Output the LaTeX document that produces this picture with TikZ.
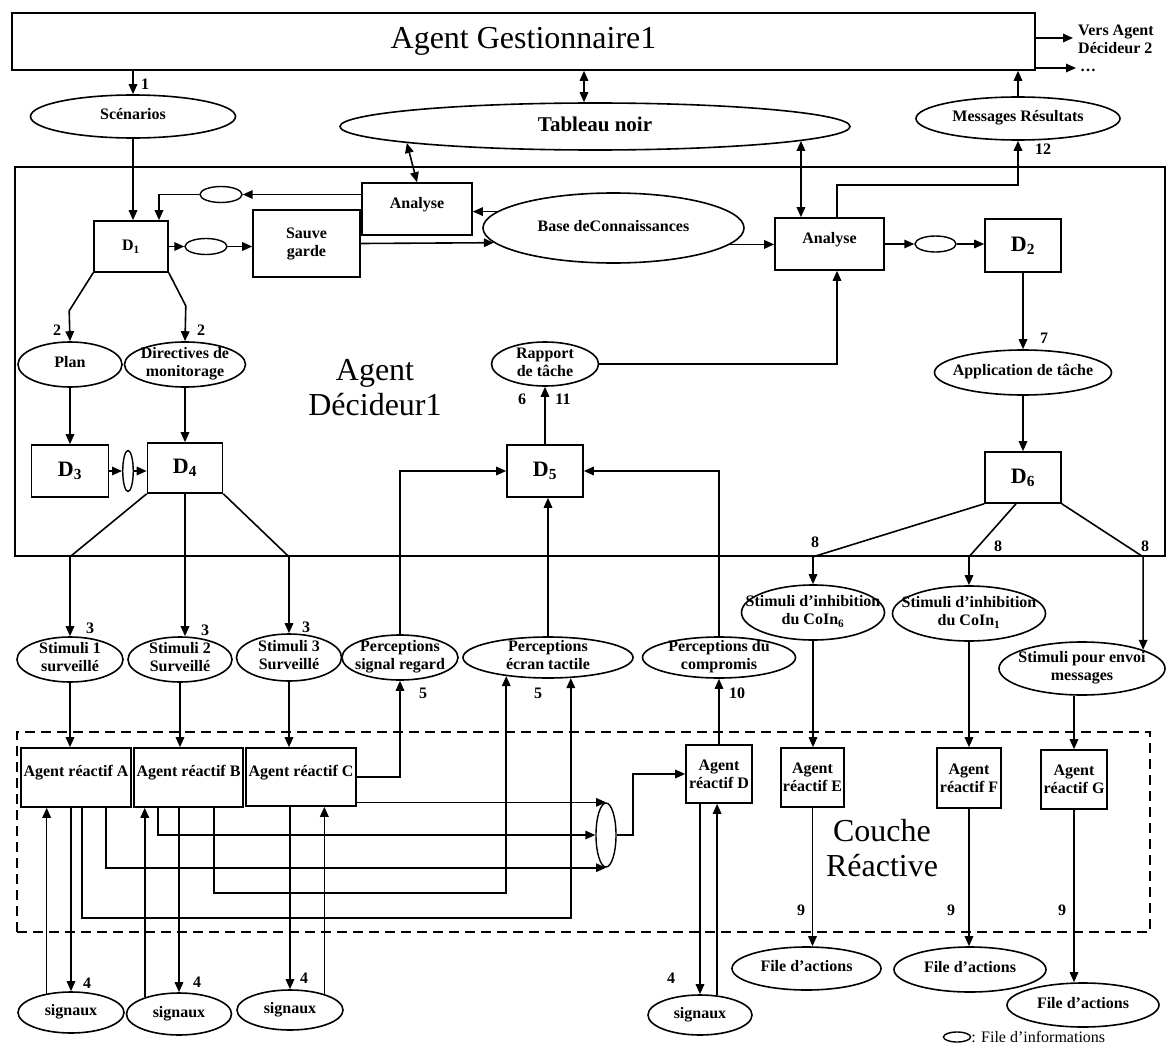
\documentclass[tikz,border=0pt]{standalone}
\usepackage{fontspec}
\setmainfont{Liberation Serif}
\usepackage{tikz}
\usetikzlibrary{arrows.meta}
\usetikzlibrary{calc}
\usetikzlibrary{shapes.geometric}

\tikzset{
  lbl/.style={font=\bfseries\fontsize{16}{18}\selectfont},
  big/.style={font=\fontsize{32}{35}\selectfont},
  boite/.style={draw, line width=1.6pt, inner sep=0pt, align=center, lbl},
  haut/.style={text height=12pt, text depth=14pt},
  dd/.style={boite, font=\bfseries\fontsize{22}{24}\selectfont},
  bulle/.style={ellipse, draw, line width=1.6pt, inner sep=0pt, lbl},
  fifo/.style={ellipse, draw, line width=1.4pt, inner sep=0pt, minimum width=42pt, minimum height=16pt},
  num/.style={lbl, inner sep=0pt},
  fl/.style={-{Triangle[length=10pt,width=8.5pt]}, line width=1.6pt},
  dfl/.style={{Triangle[length=10pt,width=8.5pt]}-{Triangle[length=10pt,width=8.5pt]}, line width=1.6pt},
}
\newcommand{\ov}[1]{\smash{\makebox[0pt]{\raisebox{-.25em}{\begin{tabular}{@{}c@{}}#1\end{tabular}}}}}

\begin{document}
\begin{tikzpicture}[x=1pt,y=-1pt]
  \useasboundingbox (0,0) rectangle (1170,1046);

  \node[boite, big, minimum width=1023pt, minimum height=57pt] (gest) at (523.5,41.5) {Agent Gestionnaire1};
  \node[lbl, anchor=west, align=left, inner sep=0pt] (vers) at (1078,39) {Vers Agent\\Décideur 2};
  \node[lbl, anchor=west, inner sep=0pt] (etc) at (1080,70) {\ldots};
  \coordinate (g1) at ([yshift=3.5pt]gest.east);
  \coordinate (g2) at ([yshift=-26.5pt]gest.east);
  \draw[fl, shorten >=5pt] (g1) -- (g1 -| vers.west);
  \draw[fl, shorten >=4pt] (g2) -- (g2 -| etc.west);

  \node[bulle, minimum width=205pt, minimum height=43pt] (sc) at (133,116.5) {\ov{Scénarios}};
  \node[bulle, font=\bfseries\fontsize{21}{24}\selectfont, minimum width=510pt, minimum height=47pt] (tab) at (595,126.5) {\ov{Tableau noir}};
  \node[bulle, minimum width=204pt, minimum height=43pt] (msg) at (1018,118.5) {\ov{Messages Résultats}};

  \coordinate (t0) at ([xshift=-11pt]tab.north);
  \draw[fl] (gest.south -| sc.north) -- (sc.north);
  \node[num] (l1) at (145,84) {1};
  \draw[dfl] (t0) -- (t0 |- gest.south);
  \draw[fl] (msg.north) -- (msg.north |- gest.south);

  % agent decideur
  \node[draw, line width=1.6pt, inner sep=0pt, minimum width=1150pt, minimum height=389pt] (dec) at (590,361.5) {};
  \node[big, align=center] (titre) at (375,388) {Agent\\Décideur1};

  \node[boite, haut, minimum width=110pt, minimum height=52pt] (al) at (417,209) {Analyse};
  \node[fifo] (fi1) at (221,194.5) {};
  \node[boite, minimum width=74pt, minimum height=51pt] (d1) at (131,246.5) {D\textsubscript{1}};
  \node[fifo] (fi2) at (206,246.5) {};
  \node[boite, minimum width=107pt, minimum height=67pt] (sg) at (306.5,243.5) {Sauve\\garde};
  \node[bulle, minimum width=261pt, minimum height=70pt] (base) at (613.5,228) {\ov{Base deConnaissances}};
  \node[boite, haut, minimum width=109pt, minimum height=52pt] (ar) at (829.5,244) {Analyse};
  \node[fifo, minimum width=41pt] (fi3) at (935.5,244) {};
  \node[dd, minimum width=76pt, minimum height=53pt] (d2) at (1023,245.5) {D\textsubscript{2}};

  \draw[dfl] (tab.185.4) -- (al.north);
  \draw[dfl] (tab.356.2) -- (tab.356.2 |- ar.north);
  \draw[fl] (al.west |- fi1) -- (fi1.east);
  \draw[fl] (fi1.west) -| ([xshift=28pt]d1.north);
  \draw[fl] (sc.south) -- (sc.south |- d1.north);
  \draw[fl] (d1.east) -- (fi2.west);
  \draw[fl] (fi2.east) -- (sg.west |- fi2);
  \draw[fl] (sg.east) -- (base.187.85);
  \draw[fl] (base.172.15) -- (al.east |- base.172.15);
  \draw[fl] (base.352.15) -- (ar.west |- base.352.15);
  \draw[fl] ([xshift=7.5pt]ar.north) -- ++(0,-32) -| (msg.south);
  \node[num] (l12) at (1043,149) {12};
  \draw[fl] (ar.east) -- (fi3.west);
  \draw[fl] (fi3.east) -- (d2.west |- fi3);

  \node[bulle, minimum width=104pt, minimum height=45pt] (plan) at (70,364.5) {\ov{Plan}};
  \node[bulle, minimum width=121pt, minimum height=45pt] (dir) at (185,364.5) {\ov{Directives de\\monitorage}};
  \node[bulle, minimum width=107pt, minimum height=44pt] (rap) at (545,364) {\ov{Rapport\\de tâche}};
  \node[bulle, minimum width=177pt, minimum height=45pt] (app) at (1023,372.5) {\ov{Application de tâche}};

  \draw[fl] (d1.south west) -- ++(-24,38) -- (plan.north);
  \draw[fl] (d1.south east) -- ++(17,33) -- (dir.north);
  \node[num] (l2a) at (57,330) {2};
  \node[num] (l2b) at (201,330) {2};
  \draw[fl] (d2.south) -- (app.north);
  \node[num] (l7) at (1044,338) {7};

  \node[dd, minimum width=77pt, minimum height=52pt] (d3) at (70,471) {D\textsubscript{3}};
  \node[fifo, minimum width=10.5pt, minimum height=41pt] (fi4) at (128,471) {};
  \node[dd, minimum width=75pt, minimum height=50pt] (d4) at (185,468) {D\textsubscript{4}};
  \node[dd, minimum width=76pt, minimum height=52pt] (d5) at (545,471) {D\textsubscript{5}};
  \node[dd, minimum width=76pt, minimum height=51pt] (d6) at (1023,477.5) {D\textsubscript{6}};

  \draw[fl] (plan.south) -- (d3.north);
  \draw[fl] (dir.south) -- (d4.north);
  \draw[fl] (d3.east) -- (fi4.west);
  \draw[fl] (fi4.east) -- (d4.west |- fi4);
  \draw[fl] (d5.north) -- (rap.south);
  \node[num] (l6) at (522,399) {6};
  \node[num] (l11) at (563,399) {11};
  \draw[fl] (rap.east) -| ([xshift=7.5pt]ar.south);
  \draw[fl] (app.south) -- (d6.north);

  % stimuli et perceptions
  \node[bulle, minimum width=106pt, minimum height=45pt] (s1) at (70,659.5) {\ov{Stimuli 1\\surveillé}};
  \node[bulle, minimum width=104pt, minimum height=45pt] (s2) at (180,659.5) {\ov{Stimuli 2\\Surveillé}};
  \node[bulle, minimum width=105pt, minimum height=47pt] (s3) at (289,657.5) {\ov{Stimuli 3\\Surveillé}};
  \node[bulle, minimum width=116pt, minimum height=45pt] (psr) at (400,657.5) {\ov{Perceptions\\signal regard}};
  \node[bulle, minimum width=170pt, minimum height=41pt] (pet) at (548,657.5) {\ov{Perceptions\\écran tactile}};
  \node[bulle, minimum width=153pt, minimum height=41pt] (pdc) at (719,657.5) {\ov{Perceptions du\\compromis}};
  \node[bulle, minimum width=143pt, minimum height=55pt] (ci6) at (813,612.5) {\ov{Stimuli d’inhibition\\du CoIn\textsubscript{6}}};
  \node[bulle, minimum width=153pt, minimum height=55pt] (ci1) at (969,613.5) {\ov{Stimuli d’inhibition\\du CoIn\textsubscript{1}}};
  \node[bulle, minimum width=166pt, minimum height=53pt] (spe) at (1082,668.5) {\ov{Stimuli pour envoi\\messages}};

  \draw[fl] (d4.south west) -- (s1.north |- dec.south) -- (s1.north);
  \draw[fl] (d4.south) -- (d4.south |- s2.north);
  \draw[fl] (d4.south east) -- (s3.north |- dec.south) -- (s3.north);
  \node[num] (l3a) at (90,628) {3};
  \node[num] (l3b) at (205,630) {3};
  \node[num] (l3c) at (306,627) {3};
  \draw[fl] (psr.north) |- (d5.west);
  \draw[fl] (pet.north) -- (pet.north |- d5.south);
  \draw[fl] (pdc.north) |- (d5.east);
  \draw[fl] (d6.south west) -- (ci6.north |- dec.south) -- (ci6.north);
  \draw[fl] ([xshift=-7pt]d6.south) -- (ci1.north |- dec.south) -- (ci1.north);
  \draw[fl] (d6.south east) -- (spe.17.53 |- dec.south) -- (spe.17.53);
  \node[num] (l8a) at (815,542) {8};
  \node[num] (l8b) at (998,546) {8};
  \node[num] (l8c) at (1145,546) {8};

  % couche reactive
  \node[draw, dash pattern=on 10pt off 6pt, line width=1.6pt, inner sep=0pt, minimum width=1133pt, minimum height=200pt] (rea) at (583.5,832) {};
  \node[big, align=center] (couche) at (882,848) {Couche\\Réactive};

  \node[boite, haut, minimum width=110pt, minimum height=59pt] (aa) at (76,777.5) {Agent réactif A};
  \node[boite, haut, minimum width=109pt, minimum height=59pt] (ab) at (188.5,777.5) {Agent réactif B};
  \node[boite, haut, minimum width=110pt, minimum height=58pt] (ac) at (301,777) {Agent réactif C};
  \node[fifo, minimum width=20pt, minimum height=64pt] (fi5) at (606,835) {};
  \node[boite, minimum width=66pt, minimum height=58pt] (ad) at (719,774) {Agent\\réactif D};
  \node[boite, minimum width=63pt, minimum height=59pt] (ae) at (812.5,777.5) {Agent\\réactif E};
  \node[boite, minimum width=64pt, minimum height=60pt] (af) at (969,778) {Agent\\réactif F};
  \node[boite, minimum width=66pt, minimum height=59pt] (ag) at (1074,779.5) {Agent\\réactif G};

  \draw[fl] (s1.south) -- (s1.south |- aa.north);
  \draw[fl] (s2.south) -- (s2.south |- ab.north);
  \draw[fl] (s3.south) -- (s3.south |- ac.north);
  \draw[fl] (ci6.south) -- (ci6.south |- ae.north);
  \draw[fl] (ci1.south) -- (ci1.south |- af.north);
  \draw[fl] (ag.north |- spe.south) -- (ag.north);
  \draw[fl] (ad.north) -- (pdc.south);
  \node[num] (l10) at (737,693) {10};
  \draw[fl] (ac.east) -| (psr.south);
  \node[num] (l5a) at (423,693) {5};
  \node[num] (l5b) at (538,693) {5};

  \draw[fl] (ac.east |- fi5.north) -- (fi5.north);
  \draw[fl] ([xshift=-30.5pt]ab.south) |- (fi5.west);
  \draw[fl] ([xshift=30pt]aa.south) |- (fi5.south);
  \draw[fl] ([xshift=6pt]aa.south) -- ++(0,110) -| (pet.318);
  \draw[fl] ([xshift=25.5pt]ab.south) -- ++(0,85) -| (pet.204.34);
  \draw[fl] (fi5.east) -- ++(16,0) |- (ad.west);

  \node[bulle, minimum width=106pt, minimum height=41pt] (sig1) at (71,1012.5) {\ov{signaux}};
  \node[bulle, minimum width=105pt, minimum height=42pt] (sig2) at (179,1014) {\ov{signaux}};
  \node[bulle, minimum width=106pt, minimum height=40pt] (sig3) at (290,1010) {\ov{signaux}};
  \node[bulle, minimum width=104pt, minimum height=40pt] (sigd) at (700,1015) {\ov{signaux}};

  \draw[fl] (aa.south -| sig1.north) -- (sig1.north);
  \draw[fl] (sig1.142.71) -- (sig1.142.71 |- aa.south);
  \draw[fl] (ab.south -| sig2.north) -- (sig2.north);
  \draw[fl] (sig2.154.8) -- (sig2.154.8 |- ab.south);
  \draw[fl] (ac.south -| sig3.north) -- (sig3.north);
  \draw[fl] (sig3.25.37) -- (sig3.25.37 |- ac.south);
  \draw[fl] (ad.south -| sigd.north) -- (sigd.north);
  \draw[fl] (sigd.49.94) -- (sigd.49.94 |- ad.south);
  \node[num] (l4a) at (87,983) {4};
  \node[num] (l4b) at (197,982) {4};
  \node[num] (l4c) at (304,978) {4};
  \node[num] (l4d) at (671,978) {4};

  \node[bulle, minimum width=149pt, minimum height=43pt] (fe) at (806.5,968.5) {\ov{File d’actions}};
  \node[bulle, minimum width=152pt, minimum height=45pt] (ff) at (970,969.5) {\ov{File d’actions}};
  \node[bulle, minimum width=152pt, minimum height=44pt] (fg) at (1083,1005) {\ov{File d’actions}};
  \draw[fl] (ae.south) -- (ae.south |- fe.north);
  \draw[fl] (af.south) -- (af.south |- ff.north);
  \draw[fl] (ag.south) -- (ag.south |- fg.north);
  \node[num] (l9a) at (801,910) {9};
  \node[num] (l9b) at (951,910) {9};
  \node[num] (l9c) at (1062,910) {9};

  \node[fifo, minimum width=27pt, minimum height=10pt] (leg) at (957,1037) {};
  \node[anchor=west, inner sep=0pt, font=\fontsize{16}{18}\selectfont] (legt) at (leg.east) {: File d’informations};
\end{tikzpicture}
\end{document}
